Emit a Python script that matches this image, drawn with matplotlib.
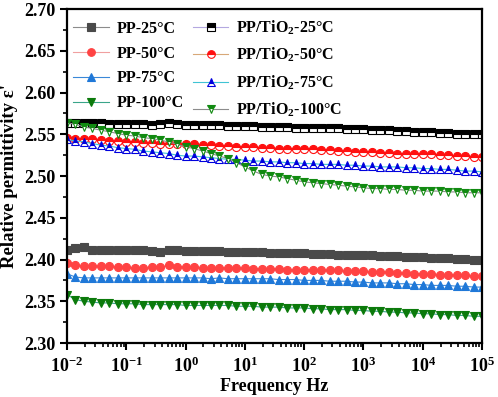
"""
Relative permittivity vs frequency for PP and PP/TiO2 at four temperatures.
"""

import matplotlib
matplotlib.use("Agg")
import matplotlib.pyplot as plt
from matplotlib.ticker import FixedLocator, FixedFormatter, LogLocator, MultipleLocator, NullFormatter
import numpy as np

# frequency sweep: 7 points per decade, 1e-2 .. 1e5 Hz
FREQ = np.logspace(-2, 5, 50)

PP_25 = [2.412, 2.414, 2.415, 2.411, 2.411, 2.411, 2.411, 2.411, 2.411, 2.411,
         2.410, 2.409, 2.411, 2.412, 2.410, 2.410, 2.410, 2.410, 2.410, 2.409,
         2.409, 2.409, 2.409, 2.409, 2.408, 2.408, 2.408, 2.408, 2.408, 2.407,
         2.407, 2.407, 2.406, 2.406, 2.406, 2.405, 2.405, 2.404, 2.404, 2.404,
         2.403, 2.403, 2.403, 2.402, 2.402, 2.402, 2.401, 2.401, 2.400, 2.400]
PP_50 = [2.396, 2.393, 2.392, 2.392, 2.392, 2.392, 2.391, 2.391, 2.390, 2.390,
         2.391, 2.391, 2.393, 2.391, 2.391, 2.391, 2.390, 2.390, 2.390, 2.390,
         2.390, 2.390, 2.389, 2.389, 2.389, 2.389, 2.388, 2.388, 2.388, 2.388,
         2.387, 2.387, 2.387, 2.386, 2.386, 2.386, 2.385, 2.385, 2.385, 2.384,
         2.384, 2.383, 2.383, 2.383, 2.382, 2.382, 2.381, 2.381, 2.380, 2.380]
PP_75 = [2.383, 2.379, 2.378, 2.378, 2.378, 2.378, 2.378, 2.378, 2.378, 2.378,
         2.378, 2.378, 2.378, 2.378, 2.378, 2.378, 2.378, 2.377, 2.378, 2.377,
         2.377, 2.377, 2.377, 2.377, 2.377, 2.376, 2.376, 2.376, 2.375, 2.375,
         2.375, 2.374, 2.374, 2.374, 2.373, 2.373, 2.372, 2.372, 2.372, 2.371,
         2.371, 2.370, 2.370, 2.369, 2.369, 2.369, 2.368, 2.368, 2.367, 2.367]
PP_100 = [2.358, 2.352, 2.350, 2.349, 2.348, 2.348, 2.347, 2.347, 2.347, 2.346,
          2.346, 2.346, 2.346, 2.346, 2.345, 2.345, 2.345, 2.345, 2.345, 2.345,
          2.344, 2.344, 2.344, 2.343, 2.343, 2.343, 2.342, 2.342, 2.342, 2.341,
          2.341, 2.340, 2.340, 2.340, 2.339, 2.339, 2.338, 2.338, 2.337, 2.337,
          2.336, 2.336, 2.335, 2.335, 2.334, 2.334, 2.333, 2.333, 2.332, 2.332]

TIO2_25 = [2.564, 2.564, 2.563, 2.563, 2.563, 2.562, 2.562, 2.562, 2.562, 2.562,
           2.561, 2.562, 2.563, 2.562, 2.561, 2.561, 2.561, 2.561, 2.561, 2.560,
           2.560, 2.560, 2.560, 2.559, 2.559, 2.559, 2.559, 2.558, 2.558, 2.558,
           2.557, 2.557, 2.557, 2.556, 2.556, 2.556, 2.555, 2.555, 2.555, 2.554,
           2.554, 2.553, 2.553, 2.553, 2.552, 2.552, 2.551, 2.551, 2.550, 2.550]
TIO2_50 = [2.546, 2.545, 2.544, 2.544, 2.543, 2.542, 2.542, 2.541, 2.541, 2.540,
           2.540, 2.539, 2.539, 2.538, 2.538, 2.538, 2.537, 2.537, 2.536, 2.536,
           2.535, 2.535, 2.535, 2.534, 2.534, 2.533, 2.533, 2.532, 2.532, 2.532,
           2.531, 2.531, 2.530, 2.530, 2.529, 2.529, 2.529, 2.528, 2.528, 2.527,
           2.527, 2.526, 2.526, 2.526, 2.525, 2.525, 2.524, 2.524, 2.523, 2.523]
TIO2_75 = [2.544, 2.542, 2.541, 2.539, 2.537, 2.536, 2.534, 2.533, 2.532, 2.530,
           2.529, 2.528, 2.527, 2.525, 2.524, 2.524, 2.523, 2.522, 2.521, 2.520,
           2.520, 2.519, 2.518, 2.518, 2.517, 2.517, 2.516, 2.516, 2.515, 2.515,
           2.514, 2.514, 2.514, 2.513, 2.513, 2.512, 2.512, 2.511, 2.511, 2.511,
           2.510, 2.510, 2.509, 2.509, 2.508, 2.508, 2.507, 2.506, 2.506, 2.505]
TIO2_100 = [2.564, 2.562, 2.559, 2.557, 2.555, 2.553, 2.551, 2.549, 2.548, 2.546,
            2.545, 2.543, 2.541, 2.538, 2.535, 2.533, 2.530, 2.527, 2.524, 2.521,
            2.516, 2.511, 2.506, 2.502, 2.500, 2.499, 2.497, 2.495, 2.493, 2.492,
            2.491, 2.490, 2.489, 2.488, 2.487, 2.486, 2.485, 2.485, 2.484, 2.484,
            2.483, 2.483, 2.482, 2.482, 2.482, 2.481, 2.481, 2.480, 2.480, 2.480]

# label, values, marker, marker colour, line colour, half filled
SERIES = [
    ("PP-25°C", PP_25, "s", "#4a4a4a", "#8c8c8c", False),
    ("PP-50°C", PP_50, "o", "#ff4343", "#f0a0a0", False),
    ("PP-75°C", PP_75, "^", "#1f78d8", "#3a88d8", False),
    ("PP-100°C", PP_100, "v", "#0b7a0b", "#3aa58a", False),
    ("PP/TiO$_2$-25°C", TIO2_25, "s", "#000000", "#b4a8e0", True),
    ("PP/TiO$_2$-50°C", TIO2_50, "o", "#ff1010", "#d8a878", True),
    ("PP/TiO$_2$-75°C", TIO2_75, "^", "#0000dd", "#40c4d4", True),
    ("PP/TiO$_2$-100°C", TIO2_100, "v", "#118a11", "#8c8c8c", True),
]

X_TICKS = [1e-2, 1e-1, 1e0, 1e1, 1e2, 1e3, 1e4, 1e5]
X_TICK_LABELS = ["$10^{-2}$", "$10^{-1}$", "$10^{0}$", "$10^{1}$",
                 "$10^{2}$", "$10^{3}$", "$10^{4}$", "$10^{5}$"]

plt.rcParams["font.family"] = ["Liberation Serif", "DejaVu Serif"]
plt.rcParams["font.weight"] = "bold"
plt.rcParams["mathtext.fontset"] = "custom"
plt.rcParams["mathtext.rm"] = "Liberation Serif:bold"
plt.rcParams["mathtext.bf"] = "Liberation Serif:bold"
plt.rcParams["mathtext.default"] = "rm"

fig = plt.figure(figsize=(4.98, 3.97), dpi=100)
ax = fig.add_axes([0.1345, 0.136, 0.8335, 0.841])

for label, vals, mk, mc, lc, half in SERIES:
    kw = dict(marker=mk, markersize=5.8, color=lc, linewidth=0.8,
              markeredgecolor=mc, markeredgewidth=0.8, label=label)
    if half:
        kw.update(markerfacecolor=mc, fillstyle="top", markerfacecoloralt="white")
    else:
        kw.update(markerfacecolor=mc)
    ax.plot(FREQ, vals, **kw)

ax.set_xscale("log")
ax.set_xlim(1e-2, 1e5)
ax.set_ylim(2.30, 2.70)

ax.xaxis.set_major_locator(FixedLocator(X_TICKS))
ax.xaxis.set_major_formatter(FixedFormatter(X_TICK_LABELS))
ax.xaxis.set_minor_locator(LogLocator(base=10, subs=np.arange(2, 10), numticks=20))
ax.xaxis.set_minor_formatter(NullFormatter())
ax.yaxis.set_major_locator(MultipleLocator(0.05))
ax.yaxis.set_minor_locator(MultipleLocator(0.025))
ax.yaxis.set_major_formatter(plt.FormatStrFormatter("%.2f"))

ax.tick_params(axis="both", which="major", direction="out", length=5, width=1.5,
               labelsize=13, top=False, right=False)
ax.tick_params(axis="x", which="major", pad=5)
ax.tick_params(axis="both", which="minor", direction="out", length=3, width=1.2,
               top=False, right=False)
for sp in ax.spines.values():
    sp.set_linewidth(1.6)

ax.set_xlabel("Frequency Hz", fontsize=13, fontweight="bold", labelpad=1)
ax.set_ylabel("Relative permittivity ε'", fontsize=13.5, fontweight="bold", labelpad=4)

ax.legend(ncol=2, loc="upper left", bbox_to_anchor=(0.0, 0.99), frameon=False,
          fontsize=11.5, numpoints=1, markerscale=0.95, handlelength=2.2,
          handletextpad=0.5, columnspacing=0.6, labelspacing=0.55,
          borderaxespad=0.2, borderpad=0.2)

fig.savefig("out.png", dpi=100)
